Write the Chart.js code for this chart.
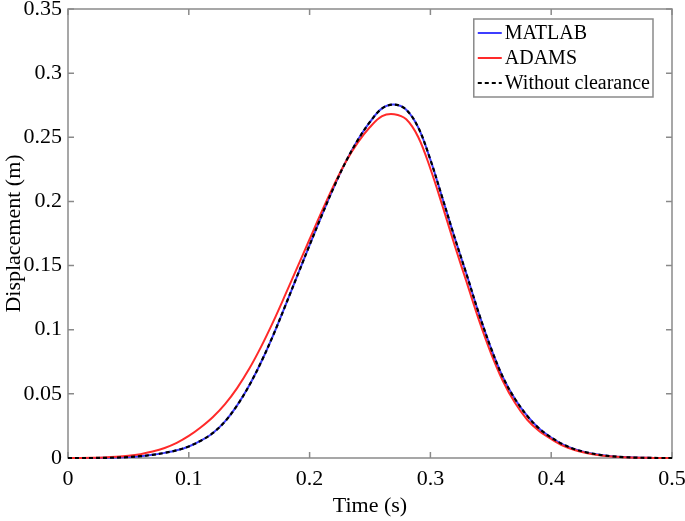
<!DOCTYPE html>
<html>
<head>
<meta charset="utf-8">
<script src="https://cdn.jsdelivr.net/npm/chart.js@4/dist/chart.umd.min.js"></script>
<style>
  html, body { margin: 0; padding: 0; background: #fff; }
</style>
</head>
<body>
<canvas id="dispChart" width="685" height="521"></canvas>
<script>
// time samples (s)
var timeS = [0, 0.01, 0.02, 0.03, 0.04, 0.05, 0.06, 0.07, 0.08, 0.09,
  0.10, 0.11, 0.12, 0.13, 0.14, 0.15, 0.16, 0.17, 0.18, 0.19,
  0.20, 0.21, 0.22, 0.23, 0.24, 0.25, 0.26, 0.27, 0.28, 0.29,
  0.30, 0.31, 0.32, 0.33, 0.34, 0.35, 0.36, 0.37, 0.38, 0.39,
  0.40, 0.41, 0.42, 0.43, 0.44, 0.45, 0.46, 0.47, 0.48, 0.49, 0.50];

// displacement (m)
var matlab = [0, 0, 0, 0.0001, 0.0003, 0.0007, 0.0014, 0.0025, 0.004, 0.006,
  0.009, 0.0135, 0.0195, 0.0285, 0.041, 0.0565, 0.075, 0.096, 0.119, 0.1425,
  0.166, 0.189, 0.211, 0.231, 0.248, 0.262, 0.2725, 0.2755, 0.2715, 0.2575,
  0.2325, 0.2025, 0.172, 0.143, 0.113, 0.086, 0.063, 0.046, 0.033, 0.023,
  0.016, 0.0105, 0.0067, 0.0042, 0.0025, 0.0014, 0.0007, 0.0003, 0.0001, 0, 0];

var adams = [0, 0, 0.0001, 0.0004, 0.0009, 0.0017, 0.003, 0.005, 0.0078, 0.0118,
  0.0172, 0.024, 0.032, 0.042, 0.0545, 0.0695, 0.087, 0.1065, 0.1275, 0.149,
  0.1705, 0.192, 0.2125, 0.231, 0.246, 0.258, 0.2665, 0.268, 0.264, 0.250,
  0.2255, 0.1965, 0.166, 0.137, 0.108, 0.082, 0.060, 0.043, 0.030, 0.021,
  0.0148, 0.0095, 0.006, 0.0037, 0.0022, 0.0012, 0.0006, 0.0002, 0.0001, 0, 0];

var noClearance = [0, 0, 0, 0.0001, 0.0003, 0.0007, 0.0014, 0.0025, 0.004, 0.006,
  0.009, 0.0135, 0.0195, 0.0285, 0.041, 0.0565, 0.075, 0.096, 0.119, 0.1425,
  0.166, 0.189, 0.211, 0.231, 0.248, 0.262, 0.2725, 0.2755, 0.2715, 0.2575,
  0.2325, 0.2025, 0.172, 0.143, 0.113, 0.086, 0.063, 0.046, 0.033, 0.023,
  0.016, 0.0105, 0.0067, 0.0042, 0.0025, 0.0014, 0.0007, 0.0003, 0.0001, 0, 0];

var xTickLabels = ['0', '0.1', '0.2', '0.3', '0.4', '0.5'];
var yTickLabels = ['0', '0.05', '0.1', '0.15', '0.2', '0.25', '0.3', '0.35'];

var serif = '"Liberation Serif", "Times New Roman", serif';
var axisGray = '#8a8a8a';

function toPoints(ys) {
  return ys.map(function (v, i) { return { x: timeS[i], y: v }; });
}

// frame with inward ticks on all four sides (MATLAB "box on" look)
var frameTicks = {
  id: 'frameTicks',
  beforeDatasetsDraw: function (chart) {
    var ctx = chart.ctx, a = chart.chartArea;
    var xs = chart.scales.x, ys = chart.scales.y;
    ctx.save();
    ctx.strokeStyle = axisGray;
    ctx.lineWidth = 1.5;
    ctx.strokeRect(a.left, a.top, a.right - a.left, a.bottom - a.top);
    ctx.beginPath();
    xs.ticks.forEach(function (t) {
      var px = xs.getPixelForValue(t.value);
      ctx.moveTo(px, a.bottom); ctx.lineTo(px, a.bottom - 6);
      ctx.moveTo(px, a.top); ctx.lineTo(px, a.top + 6);
    });
    ys.ticks.forEach(function (t) {
      var py = ys.getPixelForValue(t.value);
      ctx.moveTo(a.left, py); ctx.lineTo(a.left + 6, py);
      ctx.moveTo(a.right, py); ctx.lineTo(a.right - 6, py);
    });
    ctx.stroke();
    ctx.restore();
  }
};

// boxed legend in the top right corner of the plot
var boxedLegend = {
  id: 'boxedLegend',
  afterDatasetsDraw: function (chart) {
    var ctx = chart.ctx, a = chart.chartArea;
    var sets = chart.data.datasets;
    ctx.save();
    ctx.font = '20px ' + serif;
    var textW = 0;
    sets.forEach(function (d) { textW = Math.max(textW, ctx.measureText(d.label).width); });
    var rowH = 25, sample = 24;
    var w = 4 + sample + 3 + textW + 3;
    var h = rowH * sets.length + 3;
    var right = a.right - 19, top = a.top + 10;
    var left = right - w;
    ctx.fillStyle = '#fff';
    ctx.fillRect(left, top, w, h);
    ctx.strokeStyle = axisGray;
    ctx.lineWidth = 1.5;
    ctx.strokeRect(left, top, w, h);
    sets.forEach(function (d, i) {
      var cy = top + 14 + i * rowH;
      ctx.strokeStyle = d.borderColor;
      ctx.lineWidth = d.borderWidth;
      ctx.setLineDash(d.borderDash || []);
      ctx.beginPath();
      ctx.moveTo(left + 4, cy);
      ctx.lineTo(left + 4 + sample, cy);
      ctx.stroke();
      ctx.setLineDash([]);
      ctx.fillStyle = '#000';
      ctx.textBaseline = 'middle';
      ctx.fillText(d.label, left + 4 + sample + 3, cy + 1);
    });
    ctx.restore();
  }
};

var ctx = document.getElementById('dispChart').getContext('2d');

var dispChart = new Chart(ctx, {
  type: 'line',
  data: {
    datasets: [{
      label: 'MATLAB',
      data: toPoints(matlab),
      borderColor: '#3d3dff',
      borderWidth: 2,
      order: 2
    }, {
      label: 'ADAMS',
      data: toPoints(adams),
      borderColor: '#ff2a2a',
      borderWidth: 2,
      order: 1
    }, {
      label: 'Without clearance',
      data: toPoints(noClearance),
      borderColor: '#000000',
      borderWidth: 2.2,
      borderDash: [4, 3],
      order: 0
    }]
  },
  options: {
    responsive: false,
    animation: false,
    clip: 5,
    layout: { padding: { left: 0, right: 13, top: 9, bottom: 0 } },
    elements: {
      point: { radius: 0 },
      line: { fill: false, tension: 0.35 }
    },
    plugins: {
      legend: { display: false },
      tooltip: { enabled: false }
    },
    scales: {
      x: {
        type: 'linear',
        min: 0,
        max: 0.5,
        ticks: {
          stepSize: 0.1,
          padding: 8,
          color: '#000',
          font: { family: serif, size: 22 },
          maxRotation: 0,
          callback: function (v, i) { return xTickLabels[i]; }
        },
        grid: { display: false, drawTicks: false },
        border: { display: false },
        title: {
          display: true,
          text: 'Time (s)',
          color: '#000',
          font: { family: serif, size: 22 },
          padding: { top: 0, bottom: 2 }
        },
        afterFit: function (scale) {
          scale.height = 63;
          scale.paddingLeft = 0;
          scale.paddingRight = 0;
        }
      },
      y: {
        min: 0,
        max: 0.35,
        ticks: {
          stepSize: 0.05,
          padding: 6,
          color: '#000',
          font: { family: serif, size: 22 },
          callback: function (v, i) { return yTickLabels[i]; }
        },
        grid: { display: false, drawTicks: false },
        border: { display: false },
        title: {
          display: true,
          text: 'Displacement (m)',
          color: '#000',
          font: { family: serif, size: 22 },
          padding: { top: 1, bottom: 0 }
        },
        afterFit: function (scale) {
          scale.width = 68;
          scale.paddingTop = 0;
          scale.paddingBottom = 0;
        }
      }
    }
  },
  plugins: [frameTicks, boxedLegend]
});
</script>
</body>
</html>
